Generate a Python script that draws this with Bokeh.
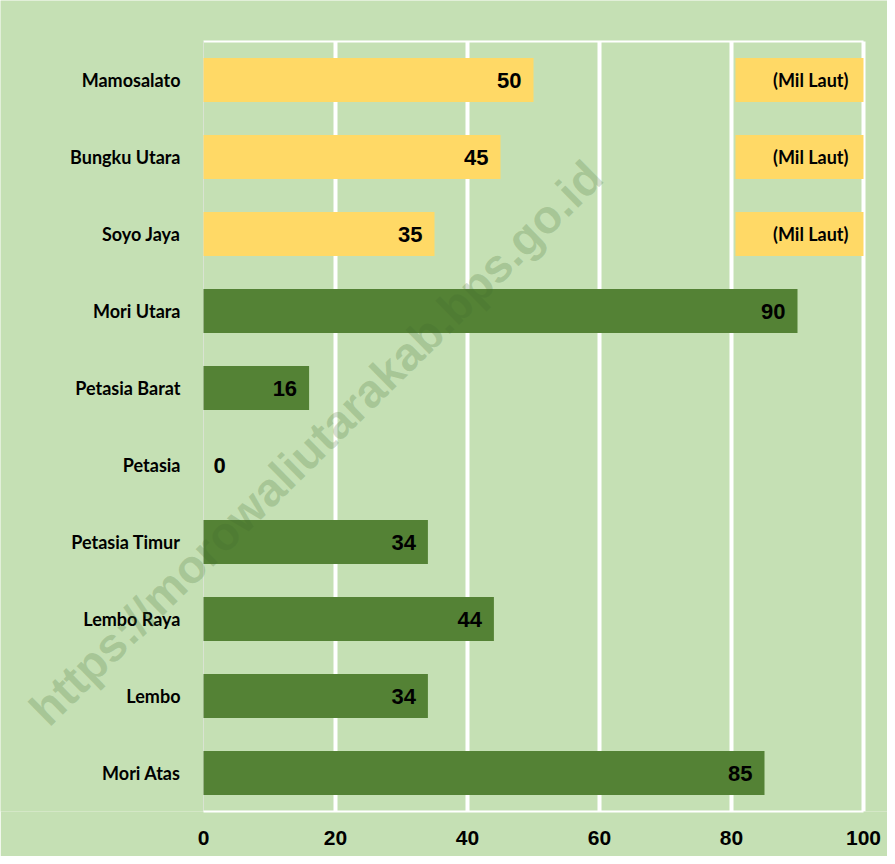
from bokeh.plotting import figure
from bokeh.models import ColumnDataSource, Range1d, FixedTicker, Label
from bokeh.core.properties import value
from bokeh.embed import file_html
from bokeh.resources import INLINE

# ---- data ----
districts = ["Mamosalato", "Bungku Utara", "Soyo Jaya", "Mori Utara", "Petasia Barat",
             "Petasia", "Petasia Timur", "Lembo Raya", "Lembo", "Mori Atas"]
distances = [50, 45, 35, 90, 16, 0, 34, 44, 34, 85]
sea_route = [True, True, True, False, False, False, False, False, False, False]
unit_note = "(Mil Laut)"
x_ticks = [0, 20, 40, 60, 80, 100]
watermark = "https://morowaliutarakab.bps.go.id"

BG = "#C5E0B4"
YELLOW = "#FFD966"
GREEN = "#548235"
LABEL_FONT = "Lato"
NUM_FONT = "Liberation Sans"

n = len(districts)
ypos = [n - i - 0.5 for i in range(n)]          # slot centres, first category on top
colors = [YELLOW if s else GREEN for s in sea_route]
aligns = ["left" if v == 0 else "right" for v in distances]
offsets = [10 if v == 0 else -12 for v in distances]

src = ColumnDataSource(dict(name=districts, y=ypos, val=distances, color=colors,
                            label=[str(v) for v in distances], align=aligns, off=offsets,
                            zero=[0] * n))

sea_y = [y for y, s in zip(ypos, sea_route) if s]
note_src = ColumnDataSource(dict(y=sea_y, left=[80.6] * len(sea_y),
                                 right=[x_ticks[-1]] * len(sea_y), txt=[unit_note] * len(sea_y)))

# frame covers the whole canvas above the x axis; data area is 0..100 x 0..n
px_per_unit_x = 6.6
px_per_slot = 77.0
p = figure(width=887, height=856,
           x_range=Range1d(-203 / px_per_unit_x, 100 + 24 / px_per_unit_x),
           y_range=Range1d(0, n + 41 / px_per_slot),
           output_backend="svg", toolbar_location=None, y_axis_location=None,
           background_fill_color=BG, border_fill_color=BG,
           min_border_left=0, min_border_right=0, min_border_top=0, min_border_bottom=45)

p.outline_line_color = None
p.grid.visible = False

# gridlines (white) and frame lines
p.segment(x0=x_ticks[1:], x1=x_ticks[1:], y0=[0] * 5, y1=[n] * 5,
          line_color="white", line_width=4)
p.segment(x0=[x_ticks[0]], x1=[x_ticks[-1]], y0=[n], y1=[n], line_color="white", line_width=2)
p.segment(x0=[x_ticks[0]], x1=[x_ticks[0]], y0=[0], y1=[n], line_color="#D9E3D2", line_width=1)

# bars
p.hbar(y="y", right="val", left=0, height=0.57, color="color", line_color=None, source=src)
p.hbar(y="y", left="left", right="right", height=0.57, color=YELLOW, line_color=None, source=note_src)

# value labels
p.text(x="val", y="y", text="label", source=src, text_align="align", x_offset="off",
       text_baseline="middle", text_font=value(NUM_FONT), text_font_style="bold",
       text_font_size="22px", text_color="black")
p.text(x="right", y="y", text="txt", source=note_src, text_align="right", x_offset=-15,
       text_baseline="middle", text_font=value(LABEL_FONT), text_font_style="bold",
       text_font_size="18px", text_color="black")

# category labels
p.text(x="zero", y="y", text="name", source=src, text_align="right", x_offset=-23,
       text_baseline="middle", text_font=value(LABEL_FONT), text_font_style="bold",
       text_font_size="18px", text_color="black")

# x axis
p.xaxis.ticker = FixedTicker(ticks=x_ticks)
p.xaxis.bounds = (x_ticks[0], x_ticks[-1])
p.xaxis.axis_line_color = "white"
p.xaxis.axis_line_width = 2
p.xaxis.major_tick_line_color = None
p.xaxis.minor_tick_line_color = None
p.xaxis.major_label_standoff = 13
p.xaxis.major_label_text_font = NUM_FONT
p.xaxis.major_label_text_font_style = "bold"
p.xaxis.major_label_text_font_size = "21px"
p.xaxis.major_label_text_color = "black"

# watermark (dark translucent overlay)
wm = Label(x=17.0, y=4.79, text=watermark, angle=0.777, text_align="center",
           text_baseline="middle", text_font=NUM_FONT, text_font_style="bold",
           text_font_size="47px", text_color="#3F6A2F", text_alpha=0.22)
p.add_layout(wm)

open("out.html", "w").write(file_html(p, INLINE))
